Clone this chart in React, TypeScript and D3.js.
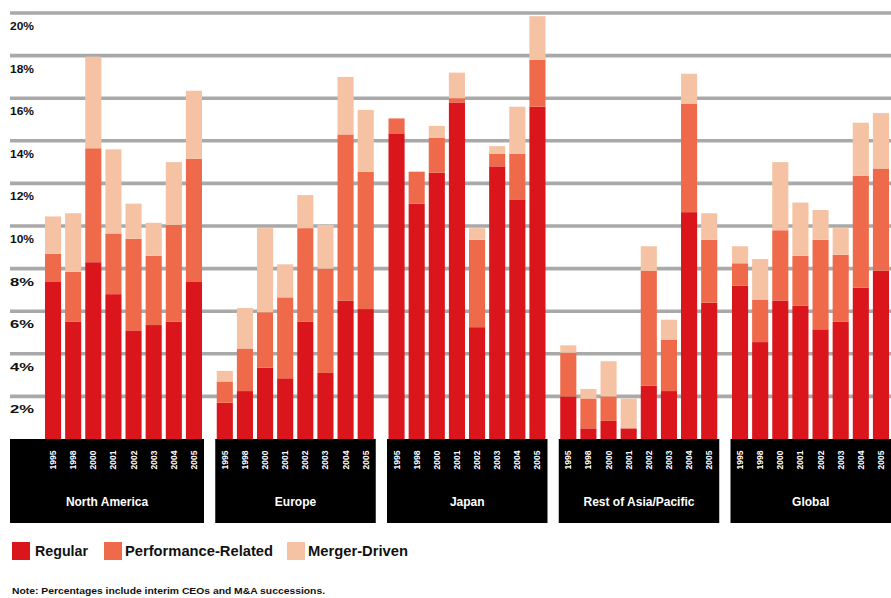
import React from "react";
import * as d3 from "d3";

const regions = ["North America", "Europe", "Japan", "Rest of Asia/Pacific", "Global"];
const years = ["1995", "1998", "2000", "2001", "2002", "2003", "2004", "2005"];
const yTicks = [2, 4, 6, 8, 10, 12, 14, 16, 18, 20];
const seriesNames = ["Regular", "Performance-Related", "Merger-Driven"];
const seriesColors = ["#da161c", "#ef6a4a", "#f5c3a4"];

const regular = [
  [7.4, 5.5, 8.3, 6.8, 5.1, 5.35, 5.5, 7.4],
  [1.7, 2.25, 3.35, 2.85, 5.5, 3.1, 6.5, 6.1],
  [14.35, 11.05, 12.5, 15.8, 5.25, 12.8, 11.25, 15.6],
  [2.0, 0.5, 0.85, 0.5, 2.5, 2.25, 10.65, 6.4],
  [7.2, 4.55, 6.5, 6.25, 5.15, 5.5, 7.1, 7.9],
];
const performance = [
  [1.3, 2.35, 5.35, 2.85, 4.3, 3.25, 4.55, 5.75],
  [1.0, 2.0, 2.6, 3.8, 4.4, 4.9, 7.8, 6.45],
  [0.7, 1.5, 1.65, 0.2, 4.1, 0.6, 2.15, 2.2],
  [2.05, 1.4, 1.15, 0.0, 5.4, 2.4, 5.1, 2.95],
  [1.05, 2.0, 3.3, 2.35, 4.2, 3.15, 5.25, 4.8],
];
const merger = [
  [1.75, 2.75, 4.3, 3.95, 1.65, 1.55, 2.95, 3.2],
  [0.5, 1.9, 3.95, 1.55, 1.55, 2.05, 2.7, 2.9],
  [0.0, 0.0, 0.55, 1.2, 0.55, 0.35, 2.2, 2.05],
  [0.35, 0.45, 1.65, 1.4, 1.15, 0.95, 1.4, 1.25],
  [0.8, 1.9, 3.2, 2.5, 1.4, 1.25, 2.5, 2.6],
];
const noteText = "Note: Percentages include interim CEOs and M&A successions.";

const W = 891;
const H = 598;
const FONT = "'Liberation Sans', Arial, sans-serif";

export default function App() {
  const y = d3.scaleLinear().domain([0, 20]).range([439, 13]);
  const gx = d3
    .scaleBand<string>()
    .domain(regions)
    .range([45, 892])
    .paddingInner(0.0684)
    .paddingOuter(0);
  const bx = d3.scaleBand<string>().domain(years).range([0, 157]).paddingInner(0.2).paddingOuter(0);

  const rows = regions.flatMap((r, ri) =>
    years.map((yr, yi) => ({
      region: r,
      year: yr,
      s0: regular[ri][yi],
      s1: performance[ri][yi],
      s2: merger[ri][yi],
    }))
  );
  const stacked = d3.stack<any>().keys(["s0", "s1", "s2"])(rows);

  return (
    <svg width={W} height={H} style={{ position: "absolute", left: 0, top: 0, background: "#fff" }} fontFamily={FONT}>
      <rect x={0} y={0} width={W} height={H} fill="#ffffff" />
      {yTicks.map((t) => (
        <g key={t}>
          <line x1={10} x2={W} y1={y(t)} y2={y(t)} stroke="#a9a9a9" strokeWidth={3.6} />
          <text x={10} y={y(t) + 17} fontSize={10.5} fontWeight="bold" fill="#111" textLength={24} lengthAdjust="spacingAndGlyphs">
            {t + "%"}
          </text>
        </g>
      ))}
      {stacked.map((layer, li) => (
        <g key={li} fill={seriesColors[li]}>
          {layer.map((d: any, i: number) => {
            const row = rows[i];
            const x = (gx(row.region) as number) + (bx(row.year) as number);
            const h = y(d[0]) - y(d[1]);
            if (h <= 0) return null;
            return <rect key={i} x={x} y={y(d[1])} width={bx.bandwidth()} height={h} />;
          })}
        </g>
      ))}
      {regions.map((r, ri) => {
        const gs = gx(r) as number;
        const x0 = ri === 0 ? 10 : gs - 1.5;
        const x1 = gs + 159;
        const cx = (x0 + x1) / 2;
        return (
          <g key={r}>
            <rect x={x0} y={439} width={x1 - x0} height={84} fill="#000" />
            {years.map((yr) => {
              const bcx = gs + (bx(yr) as number) + bx.bandwidth() / 2;
              return (
                <text
                  key={yr}
                  transform={`translate(${bcx},460) rotate(-90)`}
                  textAnchor="middle"
                  dominantBaseline="central"
                  fontSize={8.5}
                  fontWeight="bold"
                  fill="#fff"
                >
                  {yr}
                </text>
              );
            })}
            <text x={cx} y={506} textAnchor="middle" fontSize={12} fontWeight="bold" fill="#fff">
              {r}
            </text>
          </g>
        );
      })}
      {/* legend */}
      {[
        { sx: 12, tx: 35, tl: 53 },
        { sx: 104, tx: 125, tl: 148 },
        { sx: 287, tx: 308, tl: 100 },
      ].map((p, i) => (
        <g key={i}>
          <rect x={p.sx} y={542} width={18} height={18} fill={seriesColors[i]} />
          <text x={p.tx} y={556} fontSize={14} fontWeight="bold" fill="#111" textLength={p.tl} lengthAdjust="spacingAndGlyphs">
            {seriesNames[i]}
          </text>
        </g>
      ))}
      <text x={12} y={594} fontSize={8.5} fontWeight="bold" fill="#111" textLength={313} lengthAdjust="spacingAndGlyphs">
        {noteText}
      </text>
    </svg>
  );
}
